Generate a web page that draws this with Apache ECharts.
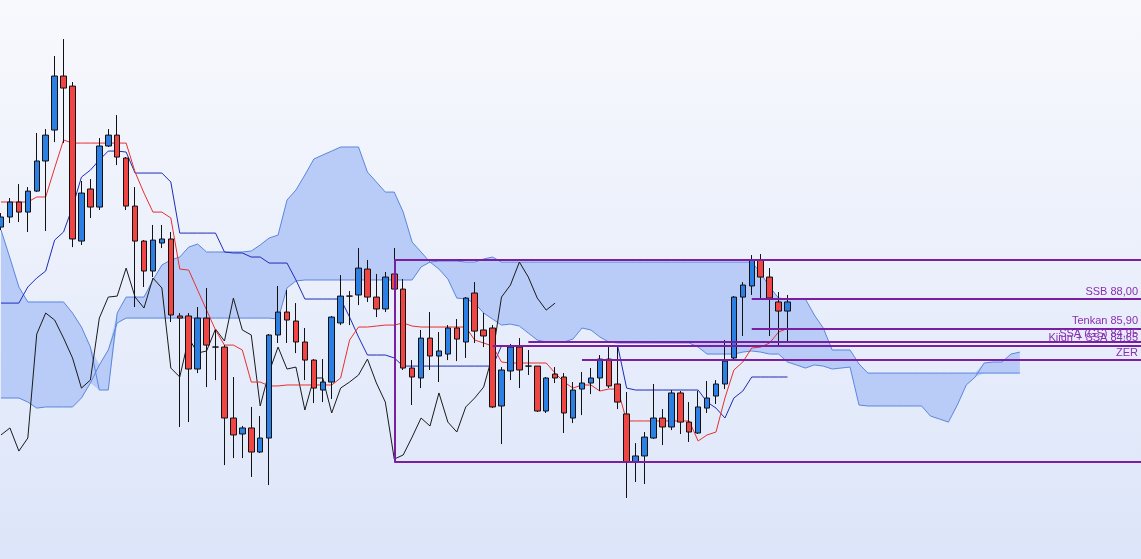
<!DOCTYPE html>
<html>
<head>
<meta charset="utf-8">
<script src="https://cdn.jsdelivr.net/npm/echarts@6/dist/echarts.min.js"></script>
<style>
  html, body { margin: 0; padding: 0; overflow: hidden; }
  #chart { width: 1145px; height: 559px; }
</style>
</head>
<body>
<div id="chart"></div>
<script>
// bars (open, close, low, high), one per period
var candles = [
  [93.14,93.86,92.93,94.14],[93.86,94.93,93.43,95.21],[94.93,94.21,93.50,96.21],[94.21,95.71,92.79,96.00],
  [95.71,97.86,95.64,99.86],[97.86,99.71,92.86,100.14],[100.07,103.93,99.21,105.36],[103.93,103.07,99.14,106.57],
  [103.21,92.29,91.71,103.50],[92.14,95.57,91.86,96.43],[95.86,94.57,93.79,96.57],[94.57,98.93,94.36,99.50],
  [98.93,99.71,98.86,100.14],[99.71,98.14,97.57,101.14],[98.07,94.64,94.36,98.14],[94.64,92.14,87.43,96.00],
  [92.14,90.00,88.86,92.21],[90.00,92.21,89.57,93.29],[92.00,92.29,91.64,93.29],[92.29,86.86,86.36,92.79],
  [86.79,86.64,78.86,87.00],[86.79,83.00,79.21,87.00],[83.00,86.64,82.71,87.43],[86.64,84.71,81.71,88.79],
  [84.57,84.57,82.21,85.79],[84.57,79.50,76.14,84.71],[79.50,78.29,76.64,82.43],[78.36,78.79,76.64,78.93],
  [78.79,77.07,75.29,80.29],[77.07,78.07,77.00,79.64],[78.07,85.43,74.71,85.50],[85.43,87.07,84.86,88.93],
  [87.07,86.50,84.86,88.64],[86.43,84.93,84.14,87.71],[84.93,83.64,82.21,85.93],[83.64,81.64,80.57,83.71],
  [81.50,82.07,80.64,83.71],[82.07,86.71,80.86,86.79],[86.29,88.21,86.14,89.71],[88.21,88.21,86.14,88.57],
  [88.29,90.21,87.57,91.64],[90.14,88.14,87.79,90.79],[88.14,87.29,86.71,89.79],[87.29,89.57,87.07,89.93],
  [89.79,88.71,88.50,91.64],[88.71,83.07,82.93,89.43],[83.07,82.43,80.43,83.64],[82.36,85.21,81.64,85.79],
  [85.21,83.93,82.93,87.07],[83.93,84.29,82.07,85.64],[84.07,85.93,83.64,86.14],[85.93,85.14,83.57,86.57],
  [84.93,88.07,83.79,88.14],[88.43,85.71,84.86,89.21],[85.79,85.36,84.57,87.00],[85.93,80.29,80.21,86.14],
  [80.36,82.93,77.64,83.14],[82.86,84.57,82.21,84.79],[84.57,82.93,81.64,85.21],[83.21,83.21,82.57,84.36],
  [83.21,80.00,79.93,83.21],[80.00,82.36,79.86,82.43],[82.64,82.36,82.00,83.14],[82.43,79.86,78.43,82.71],
  [79.50,81.50,79.14,82.07],[81.57,82.00,79.71,82.79],[82.00,82.36,81.21,83.07],[82.36,83.71,81.43,84.00],
  [83.71,81.79,81.64,84.57],[81.93,80.64,80.14,84.57],[79.79,76.36,73.79,81.36],[76.36,76.79,74.93,77.71],
  [76.79,78.14,74.79,78.50],[78.07,79.50,78.00,81.93],[79.50,78.86,77.57,80.14],[78.86,81.29,78.64,81.50],
  [81.29,79.21,78.36,81.43],[79.21,78.50,77.79,80.64],[78.43,80.29,78.36,81.43],[80.21,80.93,79.86,82.14],
  [81.07,81.93,80.50,82.21],[81.93,83.57,81.57,85.07],[83.79,88.14,83.64,88.21],[88.14,89.00,85.36,89.21],
  [88.93,90.79,88.29,91.14],[90.79,89.57,87.93,91.21],[89.57,88.07,85.36,90.21],[87.79,87.14,84.71,88.50],
  [87.14,87.79,84.93,88.29]
];

var tenkan = [
  94.93,94.93,94.93,94.93,95.29,95.29,97.36,99.36,99.14,99.14,
  99.14,99.14,99.14,99.14,99.14,97.07,95.57,94.21,94.21,93.79,
  90.14,90.07,88.64,87.21,85.79,84.71,84.71,84.36,82.07,82.07,
  81.79,81.79,81.86,81.86,81.86,81.86,81.86,81.86,82.36,85.07,
  86.00,86.00,86.07,86.14,86.14,86.29,86.07,86.00,86.00,86.00,
  86.00,86.00,86.00,85.07,84.86,84.64,83.50,83.43,83.43,83.43,
  83.43,83.43,82.71,82.07,81.64,81.86,81.86,81.43,81.57,81.57,
  79.29,79.29,79.29,79.29,79.29,79.29,79.29,79.29,77.86,78.29,
  78.50,80.93,82.93,83.50,84.50,84.57,84.86,85.64,85.90
];

var kijun = [
  87.71,87.71,87.71,88.86,89.50,90.00,92.21,92.79,94.57,96.71,
  97.21,97.93,98.57,98.57,98.50,97.00,97.00,97.00,97.00,96.36,
  92.71,92.71,92.71,92.71,92.71,91.36,91.29,91.29,91.00,91.00,
  90.57,90.57,90.57,89.36,88.00,88.00,88.00,88.00,88.00,86.71,
  85.29,84.00,84.00,84.00,83.79,83.21,83.21,83.21,83.21,83.21,
  83.21,83.21,83.21,83.21,83.21,83.21,84.65,84.65,84.65,84.65,
  84.65,84.65,84.65,84.65,84.65,84.65,84.65,84.65,84.65,84.65,
  81.64,81.50,81.50,81.50,81.50,81.50,81.50,81.50,81.50,80.64,
  80.21,79.50,80.93,81.43,82.43,82.43,82.43,82.43,82.43
];

var chikou = [
  78.29,78.79,77.14,78.07,85.50,87.00,86.50,85.21,83.79,81.64,
  82.21,86.64,88.14,88.21,90.21,88.14,87.36,89.50,88.79,83.07,
  82.43,85.21,84.14,84.29,85.86,85.00,88.07,85.79,85.43,80.36,
  82.79,84.57,83.00,83.14,80.07,82.36,82.36,79.86,81.64,82.07,
  82.57,83.71,82.00,80.64,76.57,76.86,78.14,79.50,78.93,81.29,
  79.21,78.50,80.29,80.93,81.71,84.00,88.14,89.00,90.64,89.57,
  88.07,87.21,87.71
];

// cloud edges, projected 26 periods ahead
var spanA = [
  92.93,90.93,88.86,87.79,87.79,87.79,87.79,87.79,87.00,86.00,
  84.57,81.50,81.50,87.00,88.14,88.14,88.14,89.36,90.43,90.79,
  91.00,91.71,91.93,91.36,91.36,91.36,91.36,91.36,91.43,91.86,
  92.36,92.57,95.07,95.79,96.86,98.00,98.29,98.57,98.86,98.86,
  98.86,97.07,96.36,95.64,95.64,94.21,92.07,91.36,90.64,90.14,
  89.43,88.07,88.00,87.71,87.00,86.57,86.14,86.21,86.07,85.57,
  85.07,84.93,84.93,84.93,85.14,85.93,85.79,85.29,84.93,84.86,
  84.86,84.86,84.86,84.86,84.86,84.86,84.86,84.86,84.57,84.07,
  84.07,84.07,84.07,84.21,84.29,84.21,84.07,84.07,83.50,83.29,
  83.07,83.29,83.21,83.00,83.07,83.14,80.43,80.36,80.36,80.36,
  80.36,80.36,80.36,80.36,79.64,79.43,79.21,80.43,81.86,82.43,
  83.43,83.50,83.50,84.07,84.21
];

var spanB = [
  80.93,80.93,80.93,80.64,80.21,80.29,80.29,80.29,80.29,80.93,
  82.00,83.29,84.36,86.29,86.64,86.64,86.64,86.64,86.64,86.64,
  86.64,86.64,86.64,86.64,86.64,86.64,86.64,86.64,86.64,86.64,
  86.64,86.57,88.79,89.29,89.36,89.36,89.36,89.36,89.36,89.36,
  89.36,89.36,89.36,89.36,89.36,89.36,89.36,90.29,90.64,90.71,
  90.71,90.71,90.64,90.64,90.86,91.00,90.64,90.64,90.64,90.64,
  90.64,90.64,90.64,90.64,90.64,90.64,90.64,90.64,90.64,90.64,
  90.64,90.64,90.64,90.64,90.64,90.64,90.64,90.64,90.64,90.64,
  90.64,90.64,90.64,90.64,90.64,89.86,88.86,88.07,88.00,88.00,
  88.00,86.86,85.93,84.36,84.36,84.36,83.36,82.71,82.71,82.71,
  82.71,82.71,82.71,82.71,82.71,82.71,82.71,82.71,82.71,82.71,
  82.71,82.71,82.71,82.71,82.71
];

// drawn levels: label, price, first bar
var levelNames  = ['', '', 'SSB 88,00', 'Tenkan 85,90', 'SSA (GS) 84,95', 'Kijun + SSA 84,65', 'ZER'];
var levelValues = [90.80, 76.35, 88.00, 85.90, 84.95, 84.65, 83.64];
var levelStart  = [44, 44, 84, 84, 59, 55, 65];

var periods = 129;
var categories = [];
for (var i = 0; i < periods; i++) categories.push(String(i + 1));

function pad(arr) {
  var out = arr.slice();
  while (out.length < periods) out.push(null);
  return out;
}

var cloudBase = [], cloudBand = [];
for (var k = 0; k < spanA.length; k++) {
  cloudBase.push(Math.min(spanA[k], spanB[k]));
  cloudBand.push(Math.abs(spanA[k] - spanB[k]));
}

var lastBar = periods - 1;
var levelLines = levelValues.map(function (v, j) {
  return [
    { coord: [levelStart[j], v], name: levelNames[j], label: { show: levelNames[j] !== '' } },
    { coord: [lastBar, v] }
  ];
});
levelLines.push([
  { coord: [levelStart[0], levelValues[0]], label: { show: false } },
  { coord: [levelStart[0], levelValues[1]] }
]);

var myChart = echarts.init(document.getElementById('chart'), null, { renderer: 'canvas' });

var option = {
  animation: false,
  backgroundColor: new echarts.graphic.LinearGradient(0, 0, 0, 1, [
    { offset: 0, color: '#f8f9fd' },
    { offset: 1, color: '#dce5f9' }
  ]),
  grid: { left: 1, right: 0, top: 0, bottom: 0 },
  xAxis: {
    type: 'category',
    data: categories,
    boundaryGap: false,
    show: false
  },
  yAxis: {
    type: 'value',
    min: 69.43,
    max: 109.36,
    show: false,
    splitLine: { show: false }
  },
  series: [
    {
      name: 'cloudBase',
      type: 'line',
      stack: 'cloud',
      data: pad(cloudBase),
      symbol: 'none',
      lineStyle: { width: 0, opacity: 0 },
      silent: true,
      z: 1
    },
    {
      name: 'cloud',
      type: 'line',
      stack: 'cloud',
      data: pad(cloudBand),
      symbol: 'none',
      lineStyle: { width: 0, opacity: 0 },
      areaStyle: { color: '#b9ccf7', opacity: 1 },
      silent: true,
      z: 1
    },
    {
      name: 'SSA',
      type: 'line',
      data: pad(spanA),
      symbol: 'none',
      lineStyle: { color: '#5b86de', width: 1 },
      z: 2
    },
    {
      name: 'SSB',
      type: 'line',
      data: pad(spanB),
      symbol: 'none',
      lineStyle: { color: '#5b86de', width: 1 },
      z: 2
    },
    {
      name: 'Chikou',
      type: 'line',
      data: pad(chikou),
      symbol: 'none',
      lineStyle: { color: '#1a1a1a', width: 1 },
      z: 3
    },
    {
      name: 'Kijun',
      type: 'line',
      data: pad(kijun),
      symbol: 'none',
      lineStyle: { color: '#1f2bb8', width: 1 },
      z: 3
    },
    {
      name: 'Tenkan',
      type: 'line',
      data: pad(tenkan),
      symbol: 'none',
      lineStyle: { color: '#e8302e', width: 1 },
      z: 3
    },
    {
      name: 'Price',
      type: 'candlestick',
      data: candles,
      barWidth: 6,
      clip: false,
      itemStyle: {
        color: '#2c7fe3',
        color0: '#ef4545',
        borderColor: '#111111',
        borderColor0: '#111111',
        borderWidth: 1
      },
      z: 4
    },
    {
      name: 'levels',
      type: 'line',
      data: [],
      z: 6,
      markLine: {
        silent: true,
        symbol: 'none',
        lineStyle: { color: '#7b1fa2', width: 2, type: 'solid' },
        label: {
          position: 'insideEndTop',
          formatter: '{b}',
          color: '#8a2fb0',
          fontSize: 11,
          fontFamily: 'Liberation Sans, Arial, sans-serif',
          distance: [7, 2]
        },
        data: levelLines
      }
    }
  ]
};

if (option && typeof option === 'object') {
  myChart.setOption(option);
}

window.addEventListener('resize', myChart.resize);
</script>
</body>
</html>
